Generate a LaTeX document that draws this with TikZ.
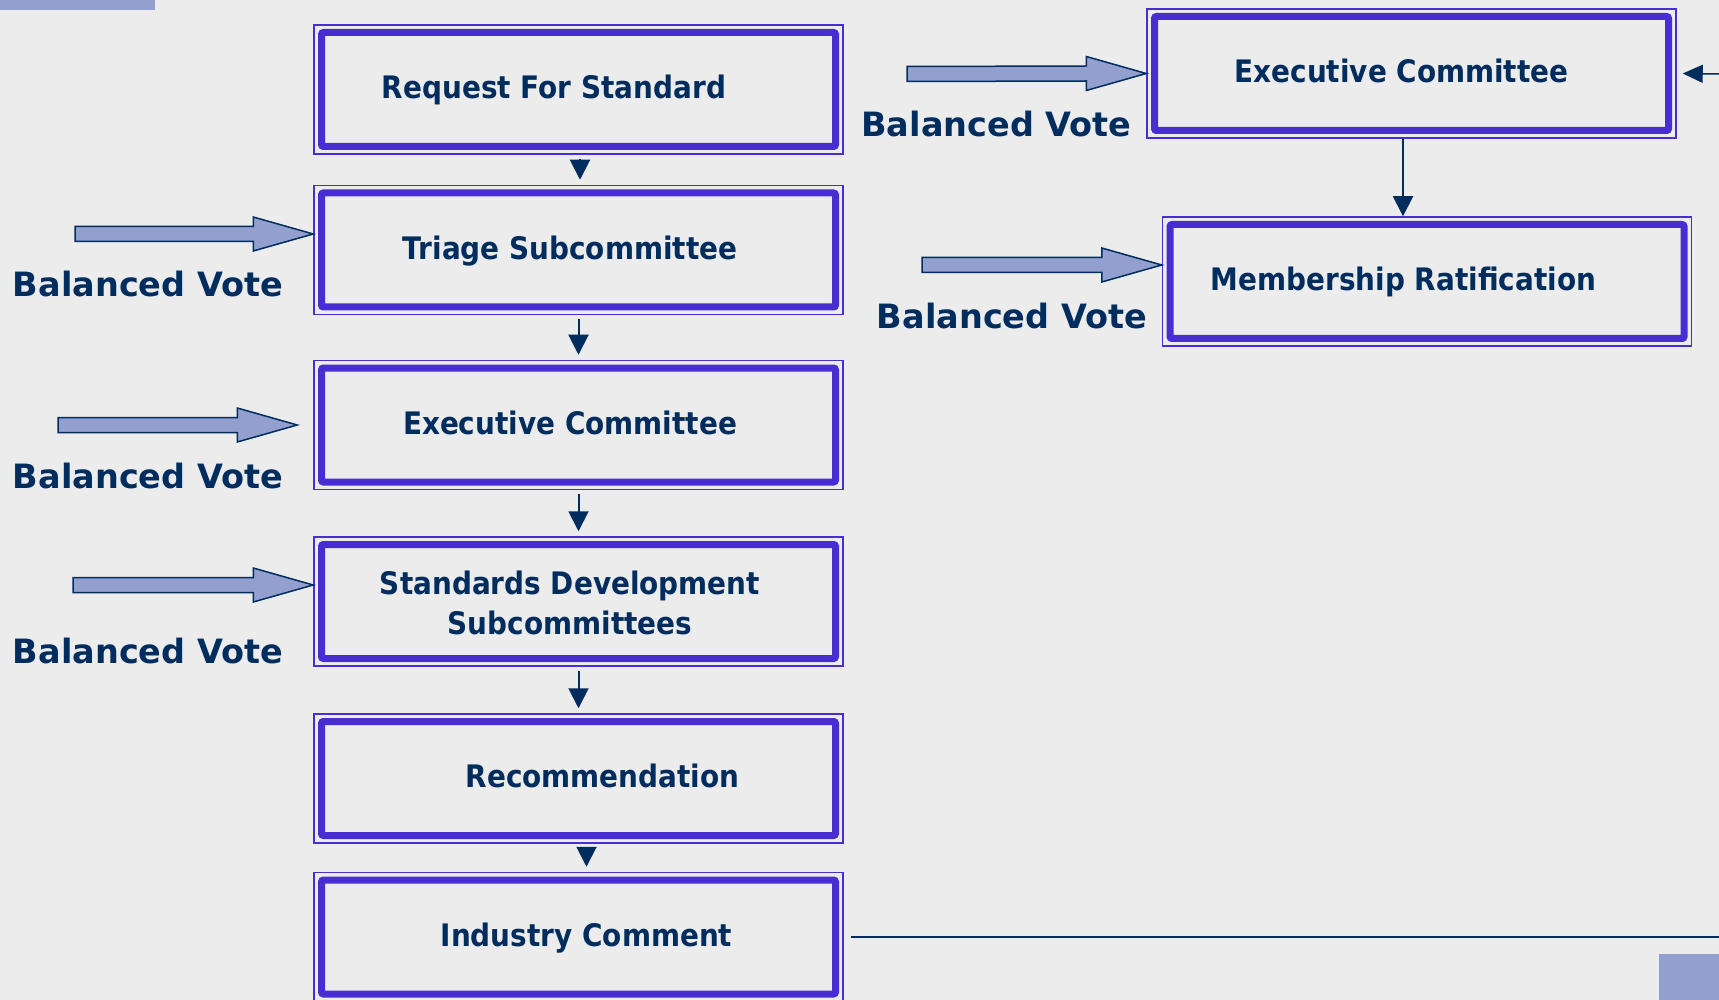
\documentclass[tikz,border=0pt]{standalone}
\usepackage{fontspec}
\setmainfont{DejaVu Sans}[FakeStretch=0.9]
\newfontfamily\votefont{DejaVu Sans}
\usepackage{xcolor}
\usetikzlibrary{arrows.meta}
\definecolor{boxblue}{RGB}{72,45,210}
\definecolor{navy}{RGB}{0,45,94}
\definecolor{votefill}{RGB}{147,160,207}
\definecolor{paper}{RGB}{236,236,236}
\newcommand{\votearrow}[2]{%
  \draw[votearrow] ([yshift=7.5pt]#1) -- ([shift={(-60pt,7.5pt)}]#2) -- ([shift={(-60pt,17pt)}]#2)
    -- (#2) -- ([shift={(-60pt,-17pt)}]#2) -- ([shift={(-60pt,-7.5pt)}]#2) -- ([yshift=-7.5pt]#1) -- cycle;}

\begin{document}
\begin{tikzpicture}[x=1pt, y=-1pt,
  stage/.style={draw=boxblue, line width=1.5pt, minimum width=529pt, minimum height=129pt, inner sep=0pt,
    path picture={\draw[boxblue, line width=7pt, rounded corners=2pt]
      ([shift={(7.5pt,-7.5pt)}]path picture bounding box.north west) rectangle
      ([shift={(-7.5pt,7.5pt)}]path picture bounding box.south east);}},
  stagetext/.style={font=\fontsize{31}{39.5}\selectfont\bfseries, text=navy, align=center,
    text height=.73em, text depth=0pt, yshift=-5.5pt},
  votetext/.style={font=\votefont\fontsize{33.5}{40}\selectfont\bfseries, text=navy,
    text height=.73em, text depth=0pt, yshift=-9pt},
  votearrow/.style={draw=navy, line width=1.5pt, fill=votefill, line join=miter},
  flow/.style={navy, line width=2pt, shorten <=4pt, shorten >=5pt, -{Triangle[length=20pt, width=20pt]}}]
\useasboundingbox (0,0) rectangle (1719,1000);
\fill[paper] (0,0) rectangle (1719,1000);
\fill[votefill] (0,0) rectangle (155,10);
\fill[votefill] (1659,954) rectangle (1719,1000);

\node[stage] (request) at (578.5,89.5) {};
\node[stage] (triage) at (578.5,250) {};
\node[stage] (exec) at (578.5,425) {};
\node[stage] (sdc) at (578.5,601.5) {};
\node[stage] (recomm) at (578.5,778.5) {};
\node[stage] (industry) at (578.5,937) {};
\node[stage] (exec2) at (1411.5,73.5) {};
\node[stage] (ratify) at (1427,281.5) {};

\node[stagetext] (request-t) at ([xshift=-24.5pt]request.center) {Request For Standard};
\node[stagetext] (triage-t) at ([xshift=-8.5pt]triage.center) {Triage Subcommittee};
\node[stagetext] (exec-t) at ([xshift=-8.5pt]exec.center) {Executive Committee};
\node[stagetext, text height=62.1pt, yshift=4pt] (sdc-t) at ([xshift=-8.5pt]sdc.center) {Standards Development\\Subcommittees};
\node[stagetext] (recomm-t) at ([xshift=24pt]recomm.center) {Recommendation};
\node[stagetext] (industry-t) at ([xshift=8pt]industry.center) {Industry Comment};
\node[stagetext] (exec2-t) at ([xshift=-10pt]exec2.center) {Executive Committee};
\node[stagetext] (ratify-t) at ([xshift=-23.5pt]ratify.center) {Membership Ratification};

\draw[flow] ([xshift=1.5pt]request.south) -- ([xshift=1.5pt]triage.north);
\draw[flow] (triage.south) -- (exec.north);
\draw[flow] (exec.south) -- (sdc.north);
\draw[flow] (sdc.south) -- (recomm.north);
\draw[flow] ([xshift=8pt]recomm.south) -- ([xshift=8pt]industry.north);
\draw[flow, shorten <=0pt, shorten >=0pt] ([xshift=-8.5pt]exec2.south) -- ([xshift=-8.5pt]exec2.south |- ratify.north);

\coordinate (loop-out) at (1719,937);
\coordinate (loop-in) at (1719,74);
\draw[navy, line width=1.5pt] ([xshift=7pt]industry.east) -- (loop-out);
\draw[navy, line width=1.5pt, -{Triangle[length=20pt, width=18pt]}] (loop-in) -- ([xshift=6pt]exec2.east);

\coordinate (v1) at (75,234);
\coordinate (v1-t) at ([shift={(0,-16)}]triage.west);
\coordinate (v2) at (58,425);
\coordinate (v2-t) at ([xshift=-16pt]exec.west);
\coordinate (v3) at (73,585);
\coordinate (v3-t) at ([shift={(0,-16.5)}]sdc.west);
\coordinate (v4) at (907,74);
\coordinate (v4-t) at (exec2.west);
\coordinate (v5) at (922,265);
\coordinate (v5-t) at ([shift={(0,-16.5)}]ratify.west);
\votearrow{v1}{v1-t}
\votearrow{v2}{v2-t}
\votearrow{v3}{v3-t}
\votearrow{v4}{v4-t}
\votearrow{v5}{v5-t}

\node[votetext] (vote1) at (148,284) {Balanced Vote};
\node[votetext] (vote2) at (148,476) {Balanced Vote};
\node[votetext] (vote3) at (148,651) {Balanced Vote};
\node[votetext] (vote4) at (996.5,124) {Balanced Vote};
\node[votetext] (vote5) at (1012,316) {Balanced Vote};
\end{tikzpicture}
\end{document}
